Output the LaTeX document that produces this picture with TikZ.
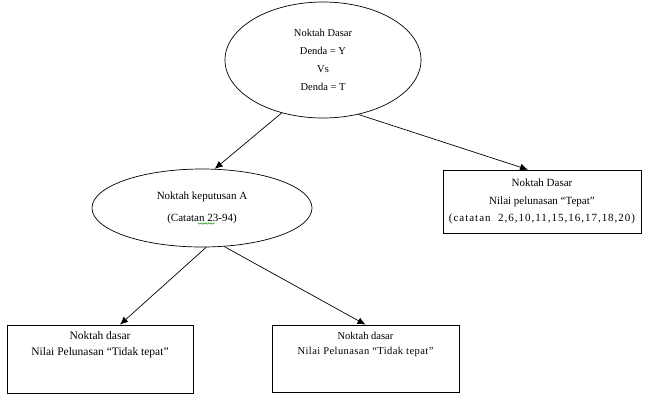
\documentclass[tikz,border=0pt]{standalone}
\usepackage{fontspec}
\setmainfont{Liberation Serif}
\usetikzlibrary{shapes.geometric,arrows.meta,decorations.pathmorphing}
\begin{document}
\begin{tikzpicture}[x=1pt,y=-1pt,
  ell/.style={draw, ellipse, inner sep=0pt, line width=0.7pt, align=center},
  box/.style={draw, rectangle, inner sep=0pt, line width=0.7pt, align=center},
  txt/.style={align=center, inner sep=0pt},
  arr/.style={-{Latex[length=8pt,width=7pt]}, line width=0.7pt}]
\useasboundingbox (0,0) rectangle (645,394);
\node[ell, minimum width=196pt, minimum height=116pt, font=\fontsize{10.5}{18}\selectfont] (top) at (323,60) {Noktah Dasar\\Denda = Y\\Vs\\Denda = T};
\node[ell, minimum width=220pt, minimum height=78pt, font=\fontsize{11}{22}\selectfont] (A) at (202,208) {Noktah keputusan A\\(Catatan 23-94)};
\node[box, minimum width=198pt, minimum height=63pt, font=\fontsize{11}{17.5}\selectfont] (R) at (542,201.5) {Noktah Dasar\\Nilai pelunasan “Tepat”\\{\addfontfeature{LetterSpace=9}(catatan~~2,6,10,11,15,16,17,18,20)}};
\node[box, minimum width=186pt, minimum height=68pt] (BL) at (100,359) {};
\node[txt, anchor=north, font=\fontsize{11.5}{15.5}\selectfont] (BLt) at ([yshift=-7pt]BL.north) {Noktah dasar\\Nilai Pelunasan “Tidak tepat”};
\node[box, minimum width=187pt, minimum height=67pt] (BM) at (365.5,358.5) {};
\node[txt, anchor=north, font=\fontsize{10.5}{15.5}\selectfont] (BMt) at ([yshift=-7pt]BM.north) {Noktah dasar\\{\addfontfeature{LetterSpace=4}Nilai Pelunasan “Tidak tepat”}};
\draw[green!55!black, line width=0.4pt, decorate, decoration={zigzag, amplitude=0.8pt, segment length=2.5pt}] (198,223.5) -- (215,223.5);
\draw[arr] (top.232) -- (A.72);
\draw[arr] (top.303) -- ([xshift=-14pt]R.north);
\draw[arr] (A.276) -- ([xshift=20pt]BL.north);
\draw[arr] (A.300) -- (BM.north);
\end{tikzpicture}
\end{document}
